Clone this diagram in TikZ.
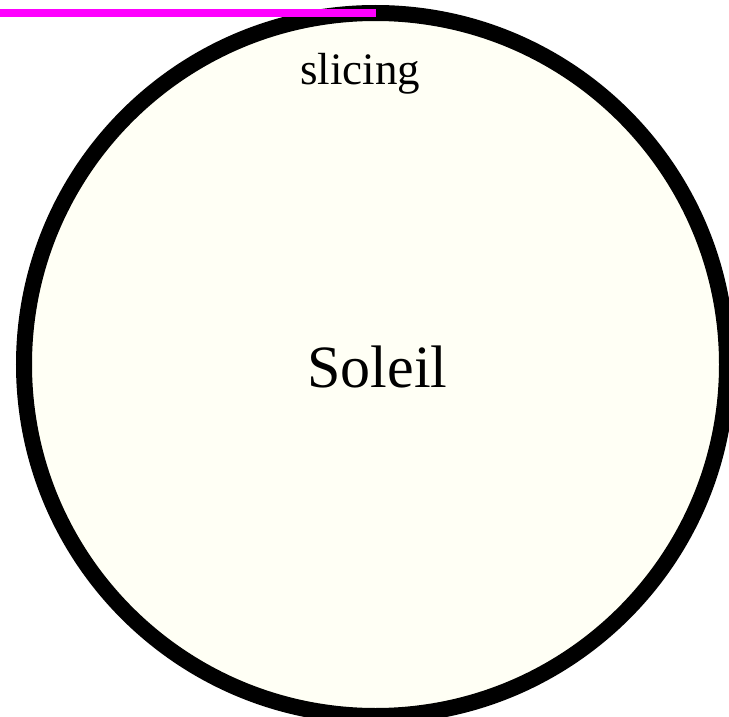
\documentclass[tikz,border=0pt]{standalone}
\usepackage{fontspec}
\setmainfont{Liberation Serif}
\definecolor{sunfill}{HTML}{FFFFF5}
\definecolor{slicecol}{HTML}{FF00FF}
\tikzset{
  sunbody/.style={circle, draw=black, fill=sunfill, line width=12pt,
    minimum size=527.25pt, inner sep=0pt, outer sep=0pt},
  slicelabel/.style={anchor=base, inner sep=0pt, font=\fontsize{33.75pt}{36pt}\selectfont},
  sunlabel/.style={anchor=base, inner sep=0pt, font=\fontsize{45pt}{50pt}\selectfont},
  sliceline/.style={draw=slicecol, line width=6pt}
}
\begin{document}
\begin{tikzpicture}[x=0.75pt, y=-0.75pt]
  \useasboundingbox (0,0) rectangle (729,717);
  \node[sunbody] (sun) at (375.5,364.5) {};
  \node[slicelabel] (slicing) at (360,85) {slicing};
  \node[sunlabel] (soleil) at (377.5,387) {Soleil};
  \coordinate (sliceend) at (0,13);
  \draw[sliceline] (sliceend) -- (sun.north);
\end{tikzpicture}
\end{document}
